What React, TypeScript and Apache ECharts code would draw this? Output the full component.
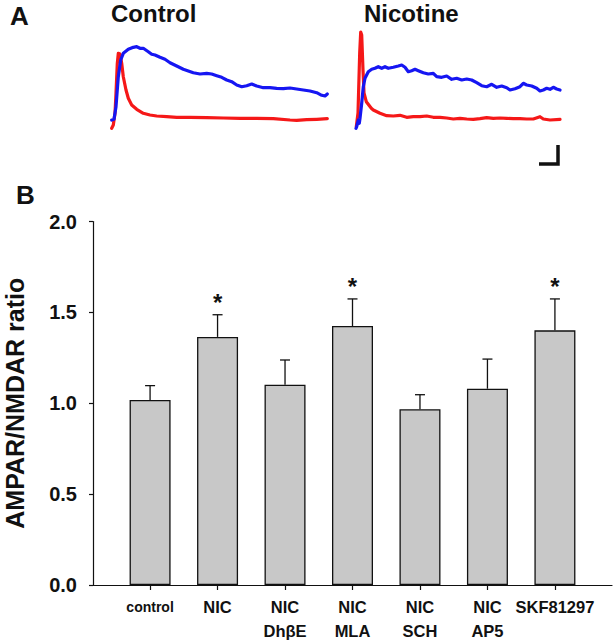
import React, { useEffect, useRef } from "react";
import * as echarts from "echarts";

const FONT = "'Liberation Sans', Arial, Helvetica, sans-serif";

// ---- Panel B data ----
const categories = ["control", "NIC", "NIC\nDhβE", "NIC\nMLA", "NIC\nSCH", "NIC\nAP5", "SKF81297"];
const ratioMean = [1.018, 1.365, 1.102, 1.425, 0.967, 1.08, 1.401];
const ratioSem = [0.079, 0.122, 0.136, 0.149, 0.08, 0.163, 0.173];
const significant = [false, true, false, true, false, false, true];
const yTicks = [0, 0.5, 1.0, 1.5, 2.0];

// ---- Panel A traces: [time (ms), current (a.u.)] ----
const controlAmpa: number[][] = [
  [0.7, 1.7], [2.3, 5], [4, 16.7], [5, 36.7], [6.3, 66.7], [7.3, 76.7], [9, 76], [10.7, 66.7],
  [12.3, 53.3], [15, 40], [17.3, 31.7], [20.7, 25], [25.7, 20.7], [32.3, 16.7], [39, 15],
  [45.7, 14], [55.7, 13.3], [65.7, 12.7], [79, 12.7], [95.7, 12.3], [112.3, 12], [129, 11.7],
  [145.7, 11.7], [162.3, 11.3], [179, 10], [185.7, 9.7], [195.7, 10.3], [205.7, 10.7], [216.3, 11.3],
];
const controlNmda: number[][] = [
  [0.7, 10], [3, 10.7], [5, 23.3], [7.3, 53.3], [9.7, 70], [12.3, 76.7], [17.3, 80.7], [22.3, 82.7],
  [25.7, 83.3], [29, 81.7], [32.3, 81.7], [37.3, 78.3], [40.7, 75.7], [44, 75], [49, 72.7],
  [54, 70.7], [59, 67.3], [65.7, 64], [72.3, 60.7], [77.3, 59], [82.3, 57.3], [89, 56],
  [95.7, 56.7], [100.7, 56], [105.7, 54.3], [110.7, 52.7], [115.7, 50], [120.7, 48.3],
  [125.7, 45], [130.7, 43.3], [135.7, 44.3], [140.7, 46], [145.7, 44], [152.3, 42.3],
  [159, 42.3], [165.7, 41.7], [172.3, 41.3], [179, 42], [185.7, 41], [192.3, 40], [199, 39],
  [205.7, 37.3], [210.7, 34.7], [214, 34], [216.3, 36],
];
const nicotineAmpa: number[][] = [
  [1.3, 3.3], [3, 17], [4.7, 77], [5.7, 98], [6.7, 95], [8, 60], [9, 37], [11.3, 28.3],
  [16.3, 21.7], [18.3, 20], [25, 16.7], [31.7, 14.3], [38.3, 14], [45, 14.7], [51.7, 12.7],
  [58.3, 13.3], [65, 13.3], [71.7, 14], [78.3, 12.7], [85, 12.7], [91.7, 12], [98.3, 11],
  [105, 11.7], [111.7, 11], [118.3, 10.7], [125, 11.3], [131.7, 12.3], [138.3, 11.7], [145, 12],
  [151.7, 11.7], [158.3, 11.3], [165, 11.3], [171.7, 11], [178.3, 11], [185, 13.3], [188.3, 11],
  [195, 10], [205, 10.7],
];
const nicotineNmda: number[][] = [
  [1, 1.7], [1.7, 3.3], [3.3, 10], [4.3, 6.7], [5, 11.7], [6.7, 26.7], [8.3, 43.3], [10, 51.7],
  [13.3, 58.3], [16.7, 60.7], [20, 61.7], [23.3, 63.3], [26.7, 61.7], [30, 63.3], [33.3, 61.7],
  [38.3, 62.7], [43.3, 64], [46.7, 65], [50, 62.7], [53.3, 58.3], [56.7, 59.3], [60, 60.7],
  [63.3, 59.3], [68.3, 57.3], [73.3, 56], [78.3, 56.7], [81.7, 53.3], [86.7, 52.7], [91.7, 54],
  [96.7, 50.7], [101.7, 51.7], [106.7, 50], [111.7, 51], [116.7, 50], [121.7, 47.3],
  [126.7, 44.3], [131.7, 43.3], [136.7, 45.7], [141.7, 42.7], [146.7, 44], [151.7, 42.3],
  [155, 40], [160, 41.3], [165, 43.3], [168.3, 46.7], [171.7, 45], [176.7, 44], [181.7, 41.7],
  [185, 39], [188.3, 40], [191.7, 41.7], [195, 40.7], [198.3, 42.7], [201.7, 41], [205, 40],
];
// scale bar (time, current) in the nicotine panel's units
const scaleBar: number[][] = [[184, -34], [203, -34], [203, -15]];

const RED = "#f51818";
const BLUE = "#1616f2";
const INK = "#111";

export default function App() {
  const ref = useRef<HTMLDivElement>(null);

  useEffect(() => {
    if (!ref.current) return;
    const chart = echarts.init(ref.current, undefined, { renderer: "svg" });

    const barData = ratioMean.map((v, i) => [i, v]);
    const errData = ratioMean.map((v, i) => [i, v, v + ratioSem[i], significant[i] ? 1 : 0]);
    const catIdx = categories.map((_, i) => i);

    const traceSeries = (data: number[][], color: string, idx: number) => ({
      type: "line",
      xAxisIndex: idx,
      yAxisIndex: idx,
      data,
      showSymbol: false,
      symbol: "none",
      lineStyle: { color, width: 3.2, join: "round", cap: "round" },
      silent: true,
    });

    const option: any = {
      animation: false,
      backgroundColor: "#fff",
      textStyle: { fontFamily: FONT },
      grid: [
        { left: 93, right: 1, top: 221.5, bottom: 55, containLabel: false, outerBoundsMode: "none" },
        { left: 111, top: 20, width: 220, height: 150, outerBoundsMode: "none" },
        { left: 355, top: 20, width: 220, height: 150, outerBoundsMode: "none" },
      ],
      xAxis: [
        {
          gridIndex: 0,
          type: "value",
          min: -0.846,
          max: 6.846,
          axisLine: { show: true, onZero: false, lineStyle: { color: INK, width: 1.2 } },
          axisTick: { show: true, customValues: catIdx, length: 5, lineStyle: { color: INK, width: 1.2 } },
          axisLabel: {
            customValues: catIdx,
            formatter: (v: number) => {
              const i = Math.round(v);
              return i === 0 ? "{c|" + categories[0] + "}" : categories[i];
            },
            fontSize: 16.5,
            fontWeight: "bold",
            color: INK,
            lineHeight: 23.5,
            margin: 10.5,
            fontFamily: FONT,
            rich: { c: { fontSize: 14, fontWeight: "bold", lineHeight: 23.5, color: INK, fontFamily: FONT } },
          },
          splitLine: { show: false },
        },
        { gridIndex: 1, type: "value", min: 0, max: 220, show: false },
        { gridIndex: 2, type: "value", min: 0, max: 220, show: false },
      ],
      yAxis: [
        {
          gridIndex: 0,
          type: "value",
          min: yTicks[0],
          max: yTicks[yTicks.length - 1],
          interval: 0.5,
          name: "AMPAR/NMDAR ratio",
          nameLocation: "middle",
          nameGap: 66,
          nameTextStyle: { fontSize: 25, fontWeight: "bold", color: INK, fontFamily: FONT },
          axisLine: { show: true, onZero: false, lineStyle: { color: INK, width: 1.2 } },
          axisTick: { show: true, length: 4, lineStyle: { color: INK, width: 1.2 } },
          axisLabel: {
            formatter: (v: number) => v.toFixed(1),
            fontSize: 20,
            fontWeight: "bold",
            color: INK,
            margin: 16,
            fontFamily: FONT,
          },
          splitLine: { show: false },
        },
        { gridIndex: 1, type: "value", min: -40, max: 110, show: false },
        { gridIndex: 2, type: "value", min: -40, max: 110, show: false },
      ],
      series: [
        {
          type: "bar",
          xAxisIndex: 0,
          yAxisIndex: 0,
          data: barData,
          barWidth: 41,
          itemStyle: { color: "#c8c8c8", borderColor: INK, borderWidth: 1.3 },
          silent: true,
        },
        {
          type: "custom",
          xAxisIndex: 0,
          yAxisIndex: 0,
          data: errData,
          encode: { x: 0, y: [1, 2] },
          z: 5,
          silent: true,
          renderItem: (params: any, api: any) => {
            const x = api.value(0);
            const lo = api.coord([x, api.value(1)]);
            const hi = api.coord([x, api.value(2)]);
            const children: any[] = [
              { type: "line", shape: { x1: lo[0], y1: lo[1], x2: hi[0], y2: hi[1] }, style: { stroke: INK, lineWidth: 1.3 } },
              { type: "line", shape: { x1: hi[0] - 5, y1: hi[1], x2: hi[0] + 5, y2: hi[1] }, style: { stroke: INK, lineWidth: 1.3 } },
            ];
            if (api.value(3) === 1) {
              children.push({
                type: "text",
                x: hi[0],
                y: hi[1] - 12,
                style: {
                  text: "*",
                  fontSize: 24,
                  fontWeight: "bold",
                  fontFamily: FONT,
                  fill: INK,
                  textAlign: "center",
                  textVerticalAlign: "middle",
                },
              });
            }
            return { type: "group", children };
          },
        },
        traceSeries(controlAmpa, RED, 1),
        traceSeries(controlNmda, BLUE, 1),
        traceSeries(nicotineAmpa, RED, 2),
        traceSeries(nicotineNmda, BLUE, 2),
        {
          type: "line",
          xAxisIndex: 2,
          yAxisIndex: 2,
          data: scaleBar,
          showSymbol: false,
          symbol: "none",
          lineStyle: { color: INK, width: 3.5, join: "miter", cap: "butt" },
          silent: true,
        },
      ],
      graphic: [
        { type: "text", left: 10, top: 3, style: { text: "A", fontSize: 26, fontWeight: "bold", fontFamily: FONT, fill: INK } },
        { type: "text", left: 111, top: 1, style: { text: "Control", fontSize: 24, fontWeight: "bold", fontFamily: FONT, fill: INK } },
        { type: "text", left: 364, top: 1, style: { text: "Nicotine", fontSize: 24, fontWeight: "bold", fontFamily: FONT, fill: INK } },
        { type: "text", left: 16, top: 182, style: { text: "B", fontSize: 26, fontWeight: "bold", fontFamily: FONT, fill: INK } },
      ],
    };

    chart.setOption(option);
    return () => chart.dispose();
  }, []);

  return (
    <div
      ref={ref}
      style={{ position: "fixed", left: 0, top: 0, width: 613, height: 640, background: "#fff" }}
    />
  );
}
